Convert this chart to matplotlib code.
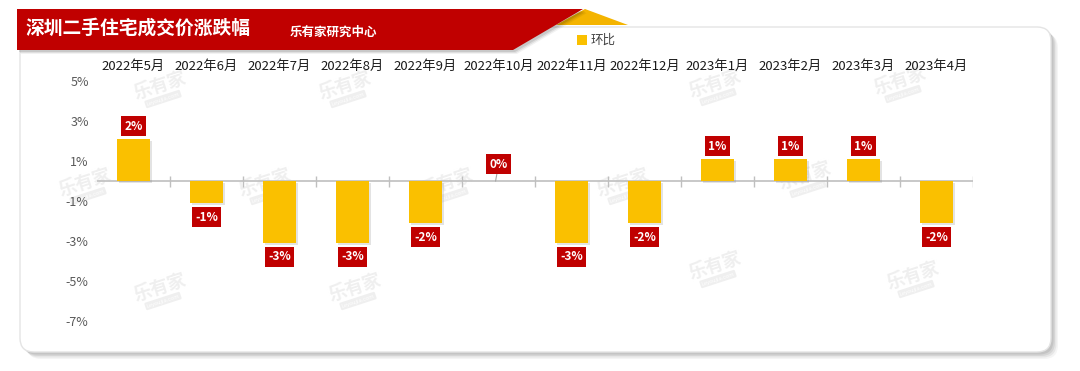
import matplotlib.pyplot as plt
import matplotlib.patheffects as pe
from matplotlib.patches import FancyBboxPatch, Polygon, Rectangle
import numpy as np

plt.rcParams['font.family'] = ['Noto Sans CJK SC', 'DejaVu Sans']

# data (环比, %)
months = ['2022年5月', '2022年6月', '2022年7月', '2022年8月', '2022年9月', '2022年10月',
          '2022年11月', '2022年12月', '2023年1月', '2023年2月', '2023年3月', '2023年4月']
mom = [2.1, -1.1, -3.1, -3.1, -2.1, 0.0, -3.1, -2.1, 1.1, 1.1, 1.1, -2.1]
yticks = [5, 3, 1, -1, -3, -5, -7]

title = '深圳二手住宅成交价涨跌幅'
subtitle = '乐有家研究中心'
series_name = '环比'

W, H = 1080, 371
fig = plt.figure(figsize=(W / 100, H / 100), dpi=100)
fig.patch.set_facecolor('white')

# background layer in pixel coordinates
bg = fig.add_axes([0, 0, 1, 1])
bg.set_xlim(0, W)
bg.set_ylim(H, 0)
bg.axis('off')

# card with soft shadow
for i, a in enumerate([0.08, 0.12, 0.16, 0.2]):
    off = 7 - i * 1.5
    bg.add_patch(FancyBboxPatch((20 + off, 27 + off), 1031, 325,
                                boxstyle='round,pad=0,rounding_size=14',
                                fc='#808080', ec='none', alpha=a, zorder=1))
bg.add_patch(FancyBboxPatch((20, 27), 1031, 325, boxstyle='round,pad=0,rounding_size=14',
                            fc='white', ec='#E4E4E4', lw=1, zorder=2))

# watermarks
wm_pts = [(160, 90), (345, 90), (715, 88), (900, 85),
          (85, 187), (265, 187), (447, 187), (623, 187), (805, 180),
          (160, 292), (355, 292), (715, 270), (913, 280)]
for wx, wy in wm_pts:
    bg.text(wx, wy - 4, '乐有家', fontsize=13, fontweight='bold', color='#EFEFEF',
            rotation=18, ha='center', va='center', zorder=3)
    bg.text(wx + 3, wy + 9, 'Leyoujia.com', fontsize=4, color='white', rotation=18,
            ha='center', va='center', zorder=3,
            bbox=dict(boxstyle='round,pad=0.25', fc='#EFEFEF', ec='none'))

# header band
bg.add_patch(Polygon([(556, 25), (585, 9), (628, 25)], closed=True, fc='#F4B400', ec='none', zorder=4))
for i, a in enumerate([0.05, 0.08, 0.1]):
    d = 4 - i
    bg.add_patch(Polygon([(17 + d, 9 + d), (583 + d, 9 + d), (513 + d, 50 + d), (17 + d, 50 + d)],
                         closed=True, fc='#000000', alpha=a, ec='none', zorder=4))
bg.add_patch(Polygon([(17, 9), (583, 9), (513, 50), (17, 50)], closed=True, fc='#C00000', ec='none', zorder=5))
bg.text(25, 28, title, fontsize=13.5, fontweight='bold', color='white', ha='left', va='center', zorder=6)
bg.text(290, 32, subtitle, fontsize=9, fontweight='bold', color='white', ha='left', va='center', zorder=6)

# legend
bg.add_patch(Rectangle((577, 35), 10, 10, fc='#FAC000', ec='none', zorder=6))
bg.text(591, 40, series_name, fontsize=9, color='#404040', ha='left', va='center', zorder=6)

# chart
ax = fig.add_axes([97 / W, (H - 321) / H, 876 / W, 240 / H])
ax.patch.set_alpha(0)
x = np.arange(len(months))
bars = ax.bar(x, mom, width=0.45, color='#FAC000', zorder=3)
for b in bars:
    b.set_path_effects([pe.SimplePatchShadow(offset=(1.5, -1.5), shadow_rgbFace='#808080', alpha=0.22),
                        pe.Normal()])

ax.set_xlim(-0.5, len(months) - 0.5)
ax.set_ylim(-7, 5)
for s in ax.spines.values():
    s.set_visible(False)

ax.axhline(0, color='#BFBFBF', lw=1.2, zorder=2)
ax.vlines(np.arange(0.5, len(months), 1), -0.3, 0.25, color='#BFBFBF', lw=1, zorder=2)

ax.set_yticks(yticks)
ax.set_yticklabels([f'{t}%' for t in yticks], fontsize=9, color='#595959')
ax.xaxis.tick_top()
ax.set_xticks(x)
ax.set_xticklabels(months, fontsize=9.5, color='#1A1A1A')
ax.tick_params(axis='y', length=0, pad=6)
ax.tick_params(axis='x', length=0, pad=6)

for xi, v in zip(x, mom):
    if v > 0:
        ty = v + 0.65
    elif v < 0:
        ty = v - 0.7
    else:
        ty = 0.85
        ax.plot([xi - 0.02, xi - 0.04], [0.4, 0.0], color='#A6A6A6', lw=0.8, zorder=3)
    ax.text(xi, ty, f'{round(v)}%', ha='center', va='center', fontsize=8.5, fontweight='bold',
            color='white', zorder=5,
            bbox=dict(boxstyle='square,pad=0.3', fc='#C00000', ec='none'))

fig.savefig('out.png', dpi=100, facecolor='white')
